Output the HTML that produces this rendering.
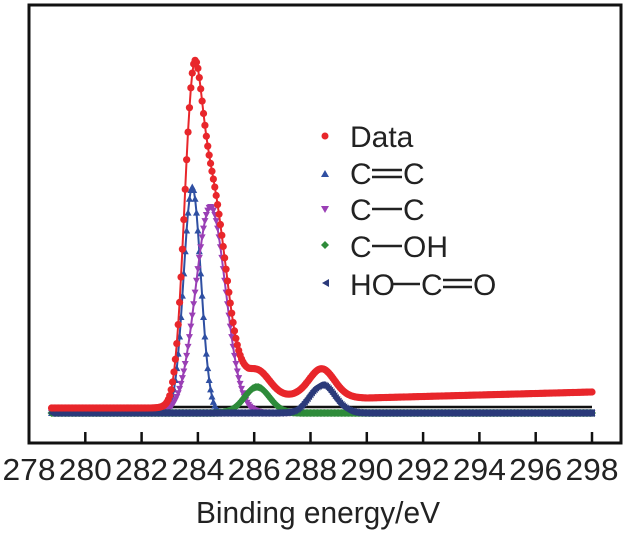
<!DOCTYPE html>
<html><head><meta charset="utf-8"><style>
html,body{margin:0;padding:0;background:#fff;}
svg{display:block;font-family:"Liberation Sans",Arial,sans-serif;}
</style></head><body>
<svg id="chart" width="624" height="533" viewBox="0 0 624 533" xmlns="http://www.w3.org/2000/svg">
<g id="plot"></g>
<rect x="29" y="5" width="592" height="438" fill="none" stroke="#111" stroke-width="3"/>
<g id="axis" font-size="31" fill="#222" text-anchor="middle"></g>
<text x="318" y="523" font-size="31" text-anchor="middle" textLength="244" lengthAdjust="spacingAndGlyphs" fill="#222">Binding energy/eV</text>
<g font-size="30" fill="#222">
 <g><circle cx="325" cy="136" r="3.5" fill="#e8262b"/><text x="350" y="147">Data</text></g>
 <g><path d="M321,177 L325,170 L329,177Z" fill="#2f4fa2"/><text x="350" y="184">C</text><line x1="372" y1="170" x2="402" y2="170" stroke="#222" stroke-width="2.5"/><line x1="372" y1="177" x2="402" y2="177" stroke="#222" stroke-width="2.5"/><text x="403" y="184">C</text></g>
 <g><path d="M321,206 L325,213 L329,206Z" fill="#9a3fb5"/><text x="350" y="220">C</text><line x1="372" y1="209" x2="402" y2="209" stroke="#222" stroke-width="2.5"/><text x="403" y="220">C</text></g>
 <g><path d="M325,241 L329,245 L325,249 L321,245Z" fill="#2e8b3a"/><text x="350" y="257">C</text><line x1="372" y1="246" x2="402" y2="246" stroke="#222" stroke-width="2.5"/><text x="403" y="257">OH</text></g>
 <g><path d="M322,283 L329,279 L329,287Z" fill="#2b3a7a"/><text x="350" y="295">HO</text><line x1="391" y1="284" x2="420" y2="284" stroke="#222" stroke-width="2.5"/><text x="421" y="295">C</text><line x1="443" y1="280" x2="472" y2="280" stroke="#222" stroke-width="2.5"/><line x1="443" y1="287" x2="472" y2="287" stroke="#222" stroke-width="2.5"/><text x="473" y="295">O</text></g>
</g>
</svg>
<script>
const tickLabels=[278,280,282,284,286,288,290,292,294,296,298];
const seriesNames=["C=C","C-C","C-OH","HO-C=O"];
const peakCenters=[283.8,284.45,286.1,288.4];
const peakHeights=[226,206,26,28];
const peakFwhm=[0.72,1.25,1.05,1.05];
const bgEnergies=[278.8,283.0,283.9,285.0,285.8,287.5,290.0,298.0];
const bgValues=[5,5,18,22,16,17,15,21];
const eStart=278.8,eEnd=298.0,eStep=0.05;
const colors=["#2f4fa2","#9a3fb5","#2e8b3a","#2b3a7a"];
const NS="http://www.w3.org/2000/svg";
function xs(e){return 29+(e-278)*28.15;}
function ys(v){return 413-v;}
function peak(i,e){const s=peakFwhm[i]/2.3548;return peakHeights[i]*Math.exp(-Math.pow(e-peakCenters[i],2)/(2*s*s));}
function bg(e){for(let k=0;k<bgEnergies.length-1;k++){if(e<=bgEnergies[k+1]){const t=(e-bgEnergies[k])/(bgEnergies[k+1]-bgEnergies[k]);return bgValues[k]+Math.max(0,t)*(bgValues[k+1]-bgValues[k]);}}return bgValues[bgValues.length-1];}
const plot=document.getElementById('plot');
const axis=document.getElementById('axis');
function mk(tag,attrs){const el=document.createElementNS(NS,tag);for(const k in attrs)el.setAttribute(k,attrs[k]);return el;}
const bl=mk('line',{x1:xs(eStart),y1:407,x2:xs(eEnd),y2:407,stroke:'#111','stroke-width':2.5});


plot.appendChild(bl);
const energies=[];for(let e=eStart;e<=eEnd+1e-9;e+=eStep)energies.push(e);
for(let i=0;i<4;i++){
 const g=mk('g',{fill:colors[i]});
 
 
 let d='';
 energies.forEach((e,j)=>{const x=xs(e),y=ys(peak(i,e));d+=(j?'L':'M')+x.toFixed(1)+','+y.toFixed(1);});
 const ln=mk('path',{d:d,fill:'none',stroke:colors[i],'stroke-width':2});
 
 
 g.appendChild(ln);
 energies.forEach(e=>{const x=xs(e),y=ys(peak(i,e));let p;
  if(i===0)p=`M${x-3.5},${y+3} L${x},${y-3.5} L${x+3.5},${y+3}Z`;
  else if(i===1)p=`M${x-3.5},${y-3} L${x},${y+3.5} L${x+3.5},${y-3}Z`;
  else if(i===2)p=`M${x},${y-4} L${x+4},${y} L${x},${y+4} L${x-4},${y}Z`;
  else p=`M${x-3.5},${y} L${x+3},${y-4} L${x+3},${y+4}Z`;
  const m=mk('path',{d:p});
  
  
  g.appendChild(m);});
 plot.appendChild(g);
}
const gd=mk('g',{fill:'#e8262b'});


let dd='';
function dataVal(e){let s=bg(e);for(let i=0;i<4;i++)s+=peak(i,e);return s;}
energies.forEach((e,j)=>{dd+=(j?'L':'M')+xs(e).toFixed(1)+','+ys(dataVal(e)).toFixed(1);});
const dl=mk('path',{d:dd,fill:'none',stroke:'#e8262b','stroke-width':2});


gd.appendChild(dl);
energies.forEach(e=>{const c=mk('circle',{cx:xs(e),cy:ys(dataVal(e)),r:3.6});
 
 
 gd.appendChild(c);});
plot.appendChild(gd);
tickLabels.forEach(t=>{const x=xs(t);
 if(t>278){const tk=mk('line',{x1:x,y1:443,x2:x,y2:432,stroke:'#111','stroke-width':2.5});
  
  
  axis.appendChild(tk);}
 const tx=mk('text',{x:x,y:480,textLength:53,lengthAdjust:'spacingAndGlyphs'});tx.textContent=t;
 
 
 axis.appendChild(tx);});
</script>
</body></html>
